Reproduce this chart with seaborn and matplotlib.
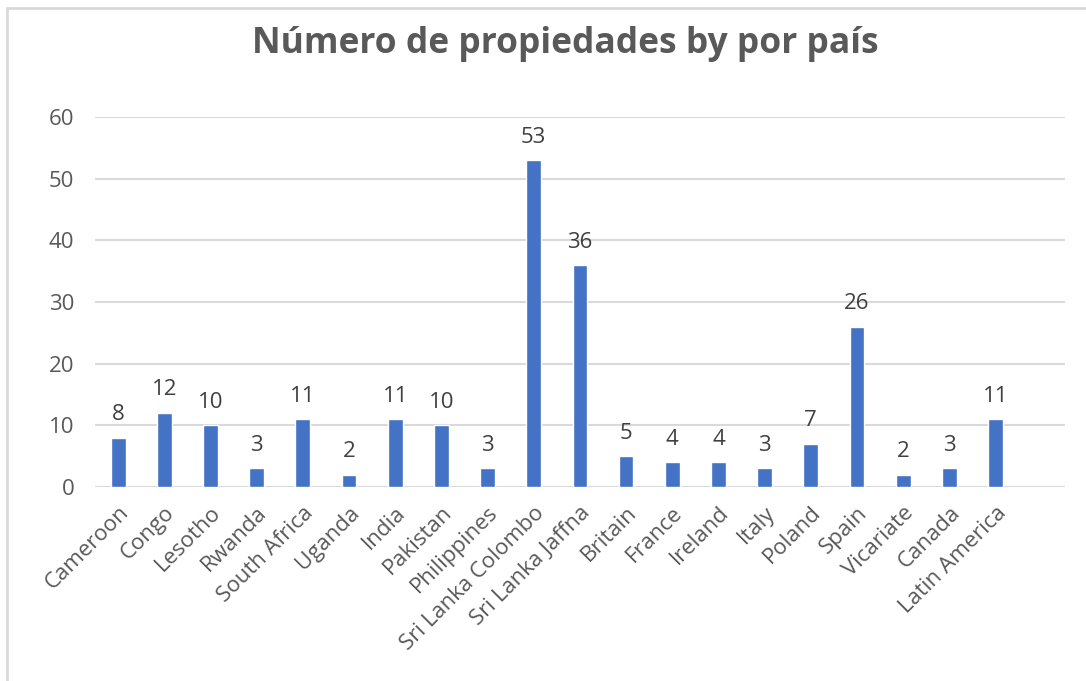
import pandas as pd
import matplotlib.pyplot as plt
import seaborn as sns
from matplotlib.lines import Line2D

# data
countries = ["Cameroon", "Congo", "Lesotho", "Rwanda", "South Africa", "Uganda",
             "India", "Pakistan", "Philippines", "Sri Lanka Colombo", "Sri Lanka Jaffna",
             "Britain", "France", "Ireland", "Italy", "Poland", "Spain", "Vicariate",
             "Canada", "Latin America"]
counts = [8, 12, 10, 3, 11, 2, 11, 10, 3, 53, 36, 5, 4, 4, 3, 7, 26, 2, 3, 11]
y_ticks = [0, 10, 20, 30, 40, 50, 60]

df = pd.DataFrame({"country": countries, "count": counts})

sns.set_style("white")
plt.rcParams["font.family"] = ["Open Sans", "DejaVu Sans"]

fig = plt.figure(figsize=(10.86, 6.81), dpi=100)
ax = fig.add_axes([0.0875, 0.285, 0.893, 0.543])

sns.barplot(data=df, x="country", y="count", color="#4472C4", width=0.32,
            saturation=1, ax=ax)

ax.set_xlim(-0.5, len(countries) + 0.5)
ax.set_ylim(0, 60)
ax.set_yticks(y_ticks)
ax.yaxis.grid(True, color="#D9D9D9", linewidth=1.5)
ax.set_axisbelow(True)
for s in ax.spines.values():
    s.set_visible(False)

ax.tick_params(axis="y", length=0, pad=15, labelsize=16, labelcolor="#595959")
ax.tick_params(axis="x", length=0, pad=11, labelsize=16, labelcolor="#595959")
plt.setp(ax.get_xticklabels(), rotation=45, ha="right", rotation_mode="anchor")
ax.set_xlabel("")
ax.set_ylabel("")

# data labels
ax.bar_label(ax.containers[0], padding=9, fontsize=16, color="#404040")

fig.suptitle("Número de propiedades by por país", x=0.521, y=0.962,
             fontsize=25.5, fontweight="bold", color="#595959")

# chart frame (left and top edges only are visible)
fig.add_artist(Line2D([7 / 1086, 7 / 1086], [0, 1 - 8 / 681],
                      transform=fig.transFigure, color="#D9D9D9", linewidth=2))
fig.add_artist(Line2D([7 / 1086, 1], [1 - 8 / 681, 1 - 8 / 681],
                      transform=fig.transFigure, color="#D9D9D9", linewidth=2))

fig.savefig("out.png", dpi=100, facecolor="white")
plt.close()
